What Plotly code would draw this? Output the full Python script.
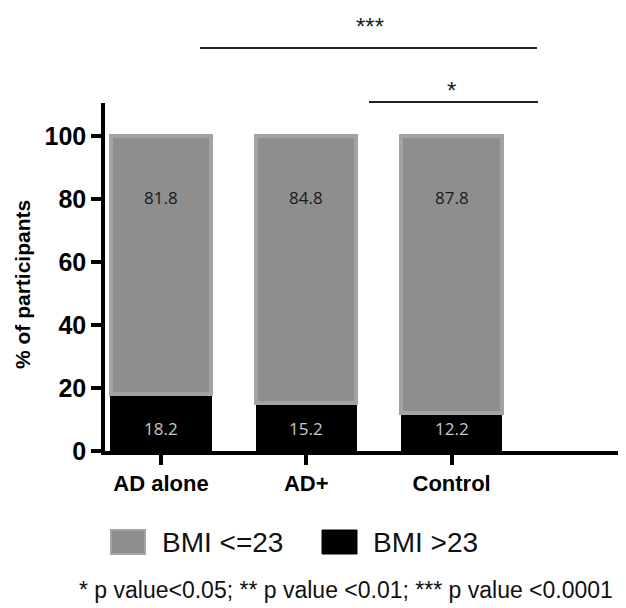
import plotly.graph_objects as go

categories = ["AD alone", "AD+", "Control"]
bmi_high = [18.2, 15.2, 12.2]      # BMI >23
bmi_low = [81.8, 84.8, 87.8]       # BMI <=23
y_ticks = [0, 20, 40, 60, 80, 100]

GREY = "#8e8e8e"
GREY_EDGE = "#a3a3a3"

fig = go.Figure()
fig.add_trace(go.Bar(x=categories, y=bmi_high, name="BMI >23", width=0.69,
                     marker=dict(color="black", line=dict(color="black", width=1)),
                     showlegend=False))
fig.add_trace(go.Bar(x=categories, y=bmi_low, name="BMI <=23", width=0.69,
                     marker=dict(color=GREY, line=dict(color=GREY_EDGE, width=4)),
                     showlegend=False))

# value labels
for c, lo, hi in zip(categories, bmi_low, bmi_high):
    fig.add_annotation(x=c, y=80.5, xref="x", yref="y", text=f"{lo}", showarrow=False,
                       xanchor="center", yanchor="middle",
                       font=dict(family="Open Sans, Noto Sans", size=17, color="#1a1a1a"))
    fig.add_annotation(x=c, y=7, xref="x", yref="y", text=f"{hi}", showarrow=False,
                       xanchor="center", yanchor="middle",
                       font=dict(family="Open Sans, Noto Sans", size=17, color="#c8c8c8"))

# page-coordinate helpers (plot area: x 105..626, y 103..451 on the page)
PW = 521.0
PH = 348.0
def px(x):
    return (x - 105) / PW
def py(y):
    return (451 - y) / PH

def note(x, y, text, size, xanchor="center", **kw):
    fig.add_annotation(xref="paper", yref="paper", x=px(x), y=py(y), text=text,
                       showarrow=False, xanchor=xanchor, yanchor="middle",
                       font=dict(family="Arial", size=size, color=kw.pop("color", "#111")),
                       **kw)

# significance brackets
fig.add_shape(type="line", xref="paper", yref="paper", x0=px(200), x1=px(537),
              y0=py(48), y1=py(48), line=dict(color="#222", width=1.8))
note(370, 27, "***", 24, color="#222")
fig.add_shape(type="line", xref="paper", yref="paper", x0=px(369), x1=px(538),
              y0=py(102), y1=py(102), line=dict(color="#222", width=1.8))
note(452, 90, "*", 24, color="#222")

# y-axis title
note(22, 285, "<b>% of participants</b>", 21, textangle=-90, color="black")

# legend (manual)
fig.add_shape(type="rect", xref="paper", yref="paper", x0=px(111), x1=px(145),
              y0=py(554), y1=py(530), fillcolor=GREY, line=dict(color=GREY_EDGE, width=2))
note(160, 542, "BMI <=23", 28, xanchor="left")
fig.add_shape(type="rect", xref="paper", yref="paper", x0=px(322), x1=px(357),
              y0=py(554), y1=py(530), fillcolor="black", line=dict(color="black", width=1))
note(371, 542, "BMI >23", 28, xanchor="left")

# footnote
note(346, 590, "* p value<0.05; ** p value <0.01; *** p value <0.0001", 23)

# page body has an 8px margin, so the figure's own margins are reduced by 8
fig.update_layout(
    barmode="stack",
    width=626, height=608,
    margin=dict(l=97, r=8, t=95, b=165),
    plot_bgcolor="white", paper_bgcolor="white",
    font=dict(family="Arial", color="black"),
)
fig.update_xaxes(range=[-0.385, 3.2], showline=True, linewidth=3.5, linecolor="black",
                 ticks="outside", ticklen=10, tickwidth=3.5, tickcolor="black",
                 tickfont=dict(family="Arial", size=22, color="black"),
                 tickvals=categories, ticktext=[f"<b>{c}</b>" for c in categories],
                 showgrid=False, zeroline=False)
fig.update_yaxes(range=[0, 110.5], tickvals=y_ticks,
                 ticktext=[f"<b>{v}</b>" for v in y_ticks],
                 showline=True, linewidth=3.5,
                 linecolor="black", ticks="outside", ticklen=10, tickwidth=3.5,
                 tickcolor="black", showgrid=False, zeroline=False,
                 tickfont=dict(family="Arial", size=25, color="black"))

fig.write_html("out.html")
